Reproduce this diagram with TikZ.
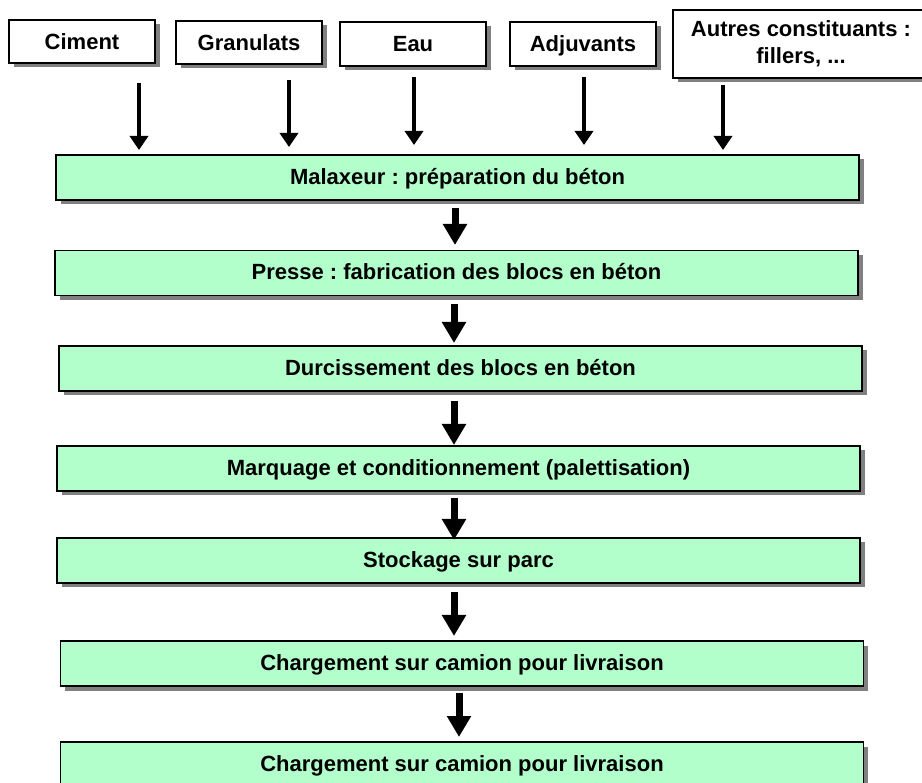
\documentclass[tikz,border=0pt]{standalone}
\usepackage{fontspec}
\setmainfont{Liberation Sans}
\usetikzlibrary{arrows.meta,shadows}
\definecolor{mint}{RGB}{179,255,204}
\definecolor{shade}{RGB}{128,128,128}
\frenchspacing
\begin{document}
\begin{tikzpicture}[x=1pt,y=-1pt,
  box/.style={draw=black, line width=1.3pt, inner sep=0pt, outer sep=0pt,
    general shadow={fill=shade, shadow xshift=4.5pt, shadow yshift=-4.5pt},
    font=\bfseries\fontsize{22}{27}\selectfont},
  srcbox/.style={box, fill=white, text height=15.8pt, text depth=0.5pt},
  stagebox/.style={box, fill=mint, minimum width=803pt, minimum height=45pt,
    text height=15.8pt, text depth=2pt},
  feed/.style={-{Triangle[width=18pt,length=14pt]}, line width=4.5pt},
  flow/.style={-{Triangle[width=23pt,length=21pt]}, line width=7pt}]
\useasboundingbox (0,0) rectangle (922,783);
\clip (0,0) rectangle (922,783);

% source boxes
\node[srcbox, minimum width=146pt, minimum height=43pt] (ciment) at (82,41.5) {Ciment};
\node[srcbox, minimum width=146pt, minimum height=43pt] (gran) at (249,42.5) {Granulats};
\node[srcbox, minimum width=146pt, minimum height=44pt] (eau) at (413,44) {Eau};
\node[srcbox, minimum width=146pt, minimum height=44pt] (adju) at (583,44) {Adjuvants};
\node[box, fill=white, minimum width=256pt, minimum height=68pt, align=center] (autres) at (801,44) {Autres constituants :\\fillers, ...};

% stage boxes
\node[stagebox] (s1) at (457.5,177.5) {Malaxeur : préparation du béton};
\node[stagebox] (s2) at (456.5,273) {Presse : fabrication des blocs en béton};
\node[stagebox] (s3) at (460.5,368.5) {Durcissement des blocs en béton};
\node[stagebox] (s4) at (458.5,468.5) {Marquage et conditionnement (palettisation)};
\node[stagebox] (s5) at (458.5,560.5) {Stockage sur parc};
\node[stagebox] (s6) at (462,663.5) {Chargement sur camion pour livraison};
\node[stagebox] (s7) at (462,764.5) {Chargement sur camion pour livraison};

% feed arrow ends
\coordinate (c1) at (139,83);  \coordinate (c2) at (139,150);
\coordinate (g1) at (289,80);  \coordinate (g2) at (289,147);
\coordinate (e1) at (414,77);  \coordinate (e2) at (414,145);
\coordinate (d1) at (584,77);  \coordinate (d2) at (584,145);
\coordinate (o1) at (723,85);  \coordinate (o2) at (723,150);
\draw[feed] (c1) -- (c2);
\draw[feed] (g1) -- (g2);
\draw[feed] (e1) -- (e2);
\draw[feed] (d1) -- (d2);
\draw[feed] (o1) -- (o2);

% flow arrows
\coordinate (f1a) at (455,208); \coordinate (f1b) at (455,245);
\coordinate (f2a) at (454,304); \coordinate (f2b) at (454,343);
\coordinate (f3a) at (454,401); \coordinate (f3b) at (454,445);
\coordinate (f4a) at (454,498); \coordinate (f4b) at (454,540);
\coordinate (f5a) at (454,592); \coordinate (f5b) at (454,636);
\coordinate (f6a) at (459,693); \coordinate (f6b) at (459,737);
\draw[flow] (f1a) -- (f1b);
\draw[flow] (f2a) -- (f2b);
\draw[flow] (f3a) -- (f3b);
\draw[flow] (f4a) -- (f4b);
\draw[flow] (f5a) -- (f5b);
\draw[flow] (f6a) -- (f6b);
\end{tikzpicture}
\end{document}
